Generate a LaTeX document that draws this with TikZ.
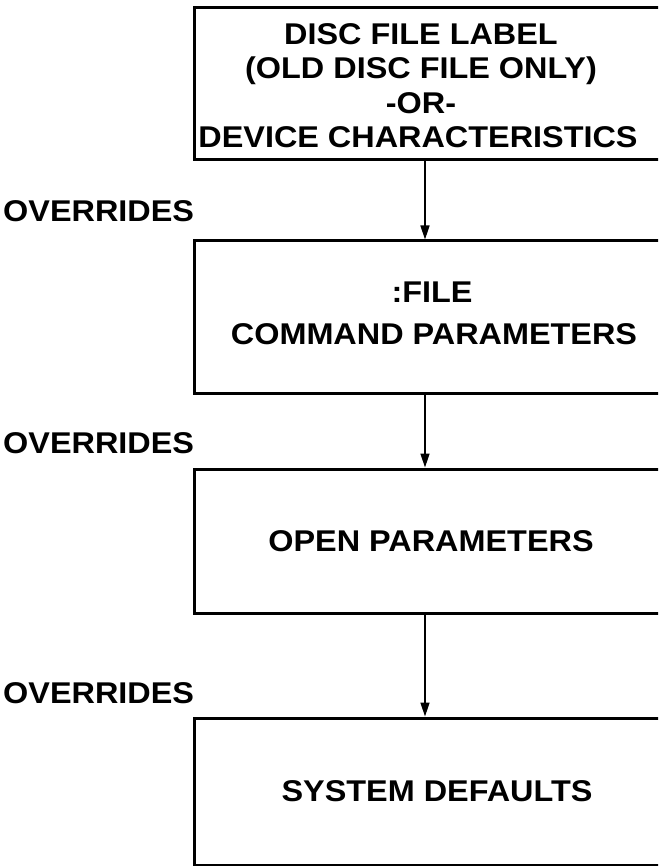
\documentclass[tikz,border=0pt]{standalone}
\usepackage{fontspec}
\newfontfamily\labfont{Liberation Sans}[FakeStretch=1.08, BoldFont=* Bold]
\usetikzlibrary{arrows.meta}
\begin{document}
\begin{tikzpicture}[x=1pt,y=-1pt,
  boxst/.style={draw, line width=3pt, minimum width=474pt, inner sep=0pt},
  txt/.style={anchor=base, inner sep=0pt, font=\labfont\bfseries\fontsize{30}{34}\selectfont},
  ovr/.style={anchor=base west, inner sep=0pt, font=\labfont\bfseries\fontsize{30}{34}\selectfont},
  arr/.style={line width=1.6pt, -{Triangle[length=14pt,width=9pt]}}]
\useasboundingbox (0,0) rectangle (658,866);
\clip (0,0) rectangle (658,866);
% boxes
\node[boxst, minimum height=152pt] (b1) at (431,84) {};
\node[boxst, minimum height=152pt] (b2) at (431,317) {};
\node[boxst, minimum height=144pt] (b3) at (431,541) {};
\node[boxst, minimum height=147pt] (b4) at (431,791.5) {};
% box texts
\node[txt] (t1a) at (421,45) {DISC FILE LABEL};
\node[txt] (t1b) at (421,79) {(OLD DISC FILE ONLY)};
\node[txt] (t1c) at (421,113.5) {-OR-};
\node[txt] (t1d) at (418,148) {DEVICE CHARACTERISTICS};
\node[txt] (t2a) at (432,302) {:FILE};
\node[txt] (t2b) at (434,344) {COMMAND PARAMETERS};
\node[txt] (t3) at (431,551) {OPEN PARAMETERS};
\node[txt] (t4) at (437,801) {SYSTEM DEFAULTS};
% overrides labels
\node[ovr] (o1) at (3,222) {OVERRIDES};
\node[ovr] (o2) at (3,453) {OVERRIDES};
\node[ovr] (o3) at (3,703) {OVERRIDES};
% arrows
\draw[arr] ([xshift=-6pt]b1.south) -- ([xshift=-6pt]b2.north);
\draw[arr] ([xshift=-6pt]b2.south) -- ([xshift=-6pt]b3.north);
\draw[arr] ([xshift=-6pt]b3.south) -- ([xshift=-6pt]b4.north);
\end{tikzpicture}
\end{document}
